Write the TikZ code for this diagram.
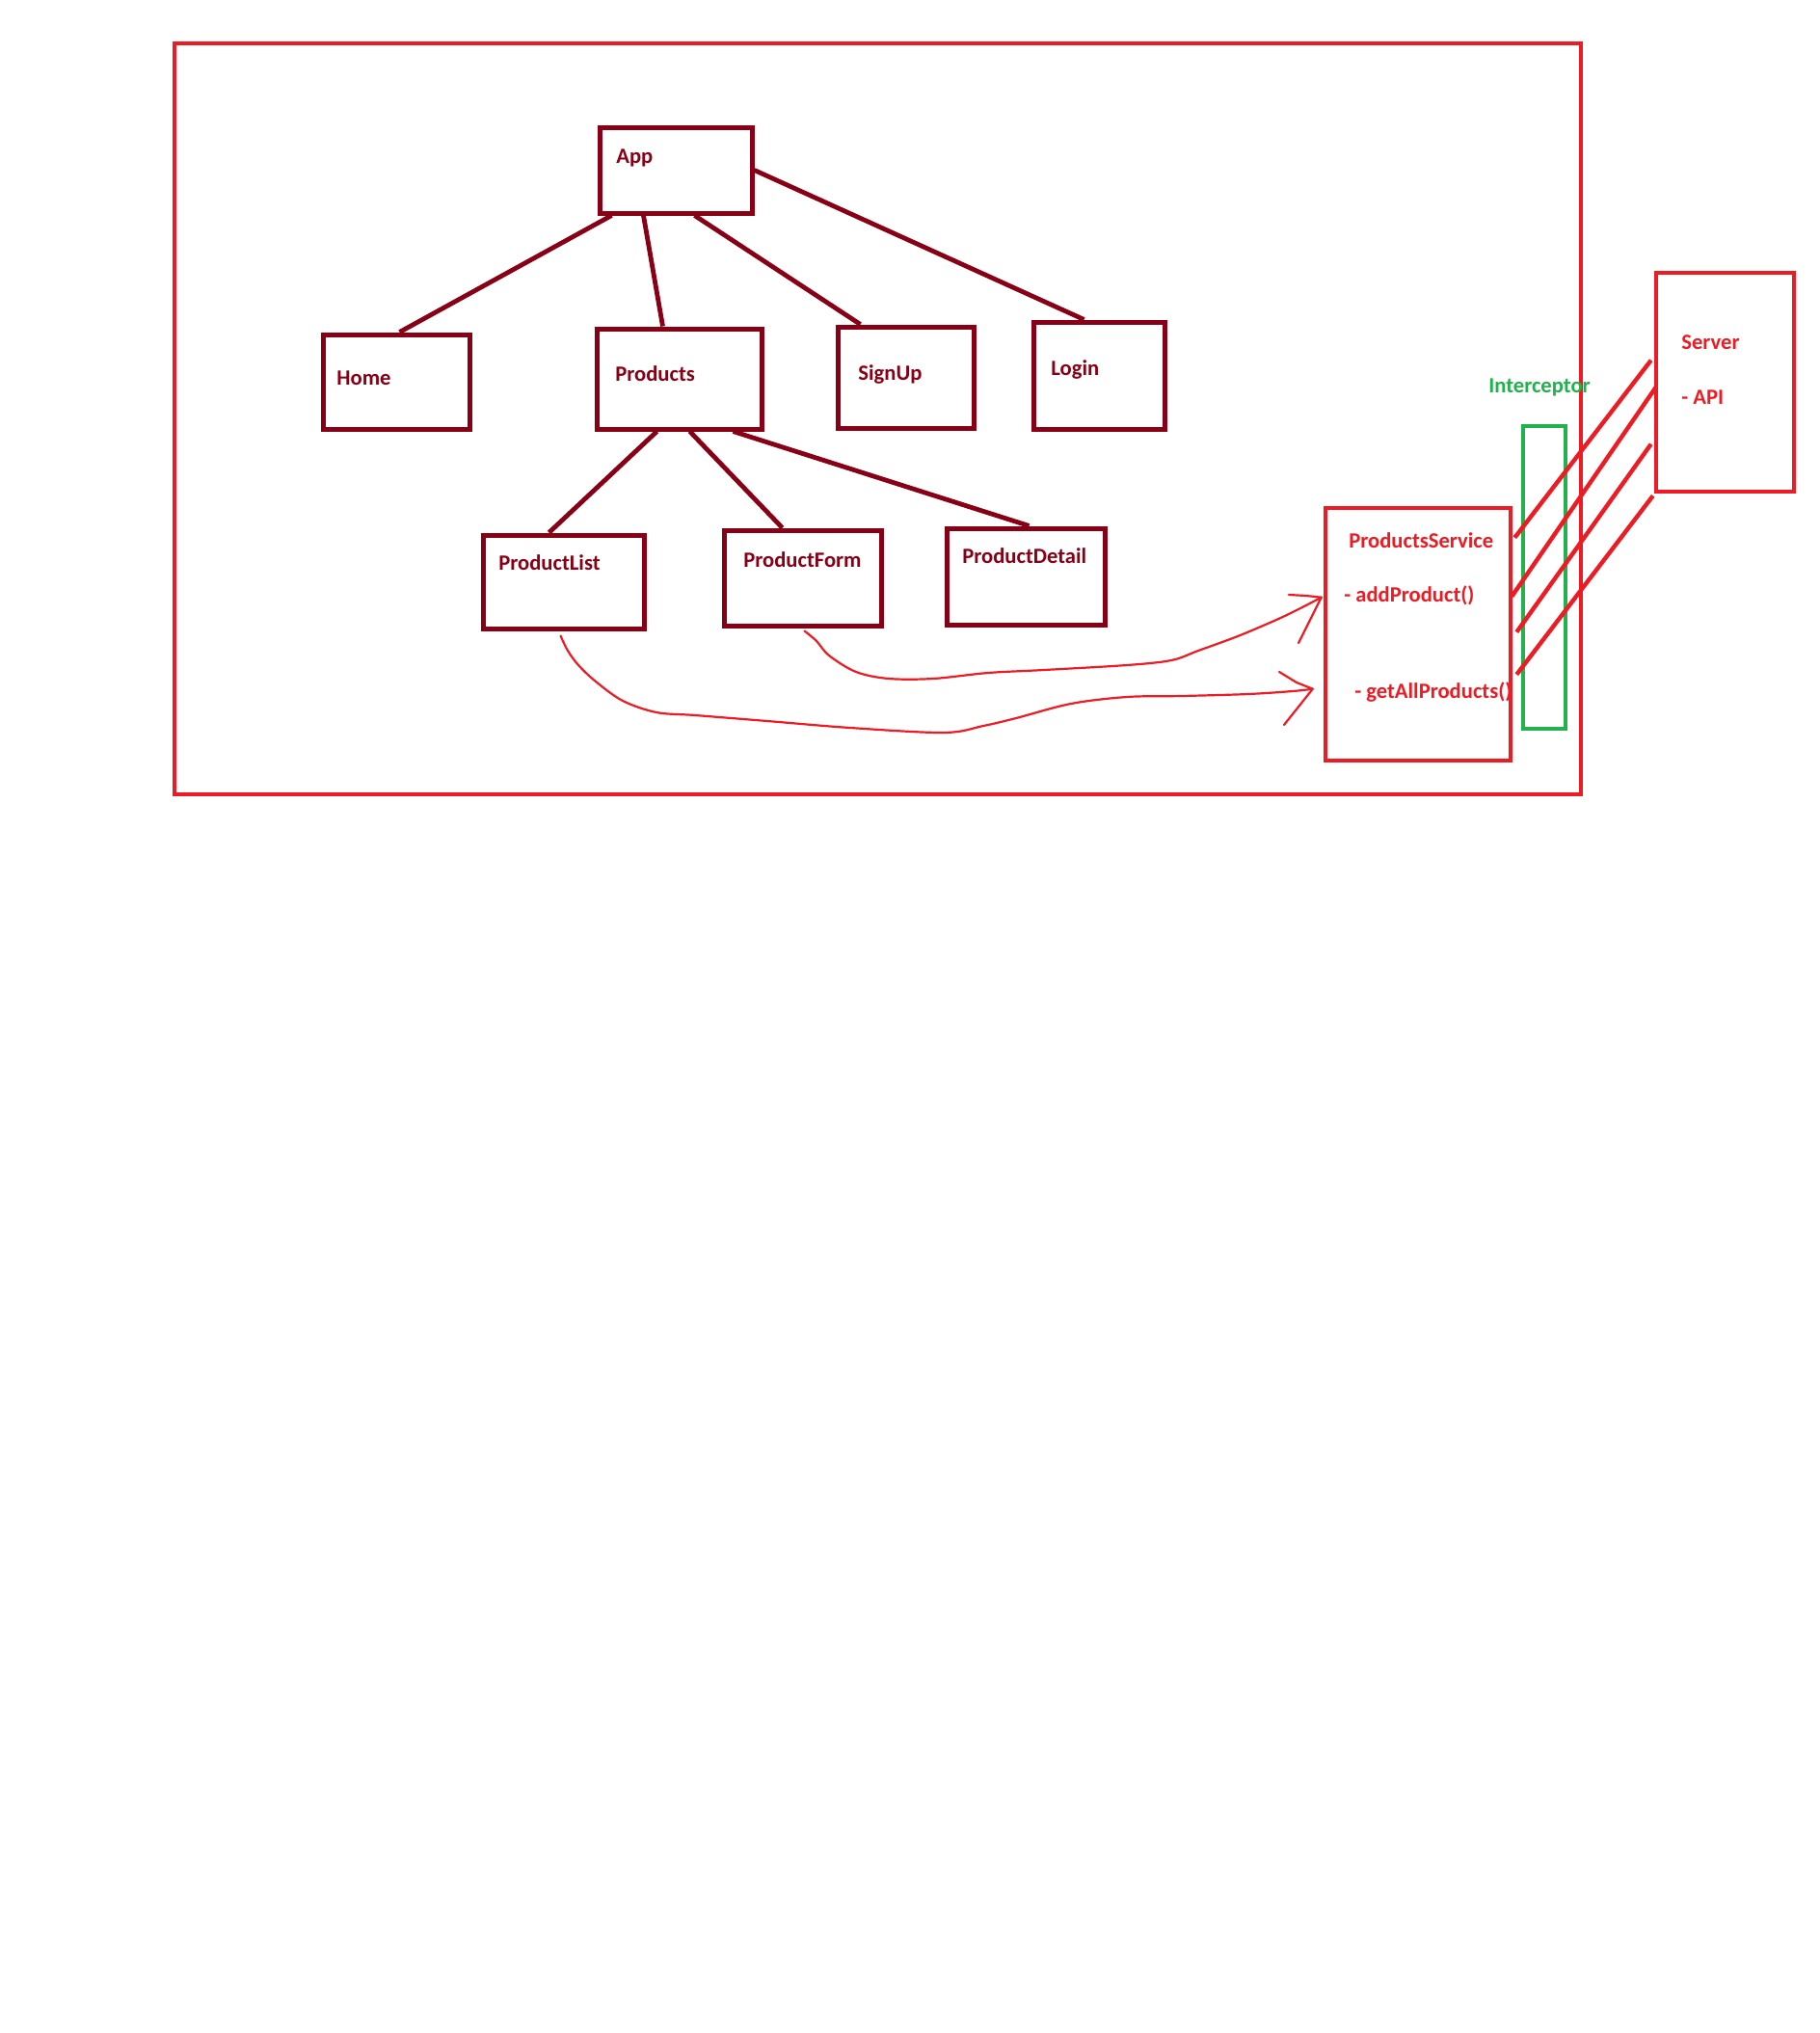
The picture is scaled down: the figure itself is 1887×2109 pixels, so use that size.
\documentclass[tikz,border=0pt]{standalone}
\usepackage{fontspec}
\setmainfont{Carlito}
\usetikzlibrary{fit,calc}
\definecolor{dkred}{HTML}{880015}
\definecolor{pred}{HTML}{ED1C24}
\definecolor{pgreen}{HTML}{22B14C}
\begin{document}
\begin{tikzpicture}[x=0.5pt,y=-0.5pt,
  tbox/.style={draw=dkred,line width=2.5pt,inner sep=0pt,rectangle},
  rbox/.style={draw=pred,line width=2.3pt,inner sep=0pt,rectangle},
  gbox/.style={draw=pgreen,line width=2.3pt,inner sep=0pt,rectangle},
  tlink/.style={draw=dkred,line width=2.4pt},
  rlink/.style={draw=pred,line width=2.2pt},
  curvy/.style={draw=pred,line width=1.1pt,line cap=round,line join=round},
  lbl/.style={anchor=west,inner sep=0pt,font=\fontsize{11.3pt}{13pt}\selectfont\bfseries},
  tlbl/.style={lbl,text=dkred},
  rlbl/.style={lbl,text=pred},
  glbl/.style={lbl,text=pgreen}]
\useasboundingbox (0,0) rectangle (1887,2109);
\fill[white] (0,0) rectangle (1887,2109);
% outer frame
\node[rbox,fit={(181,45) (1640,824)}] (frame) {};
% tree boxes
\node[tbox,fit={(622,132) (780,221)}] (app) {};
\node[tbox,fit={(335,347) (487,445)}] (home) {};
\node[tbox,fit={(619,341) (790,445)}] (products) {};
\node[tbox,fit={(869,339) (1010,444)}] (signup) {};
\node[tbox,fit={(1072,334) (1208,445)}] (login) {};
\node[tbox,fit={(501,555) (668,652)}] (plist) {};
\node[tbox,fit={(751,550) (914,649)}] (pform) {};
\node[tbox,fit={(982,548) (1146,648)}] (pdetail) {};
% service, interceptor, server
\node[rbox,fit={(1375,527) (1567,789)}] (ps) {};
\node[gbox,fit={(1580,442) (1624,756)}] (icpt) {};
\node[rbox,fit={(1718,283) (1861,510)}] (server) {};
% labels
\node[tlbl] (tApp) at (639,164) {App};
\node[tlbl] (tHome) at (349,392) {Home};
\node[tlbl] (tProducts) at (638,388) {Products};
\node[tlbl] (tSignUp) at (890,388) {SignUp};
\node[tlbl] (tLogin) at (1090,383) {Login};
\node[tlbl] (tPList) at (517,584) {ProductList};
\node[tlbl] (tPForm) at (771,581) {ProductForm};
\node[tlbl] (tPDetail) at (998,577) {ProductDetail};
\node[rlbl] (tPS) at (1399,561) {ProductsService};
\node[rlbl] (tAdd) at (1394,618) {- addProduct()};
\node[rlbl] (tGet) at (1405,718) {- getAllProducts()};
\node[rlbl] (tServer) at (1744,355) {Server};
\node[rlbl] (tAPI) at (1744,412) {- API};
\node[glbl] (tIcpt) at (1544,402) {Interceptor};
% tree connectors
\draw[tlink] ($(app.south west)+(15,0)$) -- ($(home.north west)+(82,0)$);
\draw[tlink] ($(app.south west)+(48,0)$) -- ($(products.north west)+(71,0)$);
\draw[tlink] ($(app.south west)+(101,0)$) -- ($(signup.north west)+(26,0)$);
\draw[tlink] (app.east) -- ($(login.north west)+(55,0)$);
\draw[tlink] ($(products.south west)+(65,0)$) -- ($(plist.north west)+(71,0)$);
\draw[tlink] ($(products.south west)+(99,0)$) -- ($(pform.north west)+(63,0)$);
\draw[tlink] ($(products.south west)+(144,0)$) -- ($(pdetail.north west)+(88,0)$);
% service to server lines
\draw[rlink] ($(ps.north east)+(2,33)$) -- ($(server.north west)+(-3,93)$);
\draw[rlink] ($(ps.north east)+(-1,94)$) -- ($(server.north west)+(2,121)$);
\draw[rlink] ($(ps.north east)+(4,131)$) -- ($(server.north west)+(-3,180)$);
\draw[rlink] ($(ps.north east)+(4,175)$) -- ($(server.south west)+(-1,2)$);
% curved arrows
\coordinate (a1) at ($(pform.south west)+(86,3)$);
\coordinate (a2) at ($(ps.north west)+(-2,95)$);
\coordinate (b1) at ($(plist.south west)+(83,5)$);
\coordinate (b2) at ($(ps.north west)+(-11,190)$);
\draw[curvy] plot[smooth,tension=0.55] coordinates {(a1) (847,665) (860,680) (888,697) (922,704) (968,704) (1025,698) (1083,695) (1169,690) (1215,685) (1243,675) (1284,660) (1324,643) (1347,632) (a2)};
\draw[curvy] (1337,617) -- (1355,618) -- (a2);
\draw[curvy] (1347,667) -- (a2);
\draw[curvy] plot[smooth,tension=0.55] coordinates {(b1) (589,675) (600,690) (618,707) (646,727) (681,739) (721,742) (796,748) (882,755) (979,760) (1020,753) (1054,745) (1111,730) (1169,723) (1226,722) (1295,720) (1341,717) (b2)};
\draw[curvy] (1327,697) -- (1345,708) -- (b2);
\draw[curvy] (1332,752) -- (b2);
\end{tikzpicture}
\end{document}
